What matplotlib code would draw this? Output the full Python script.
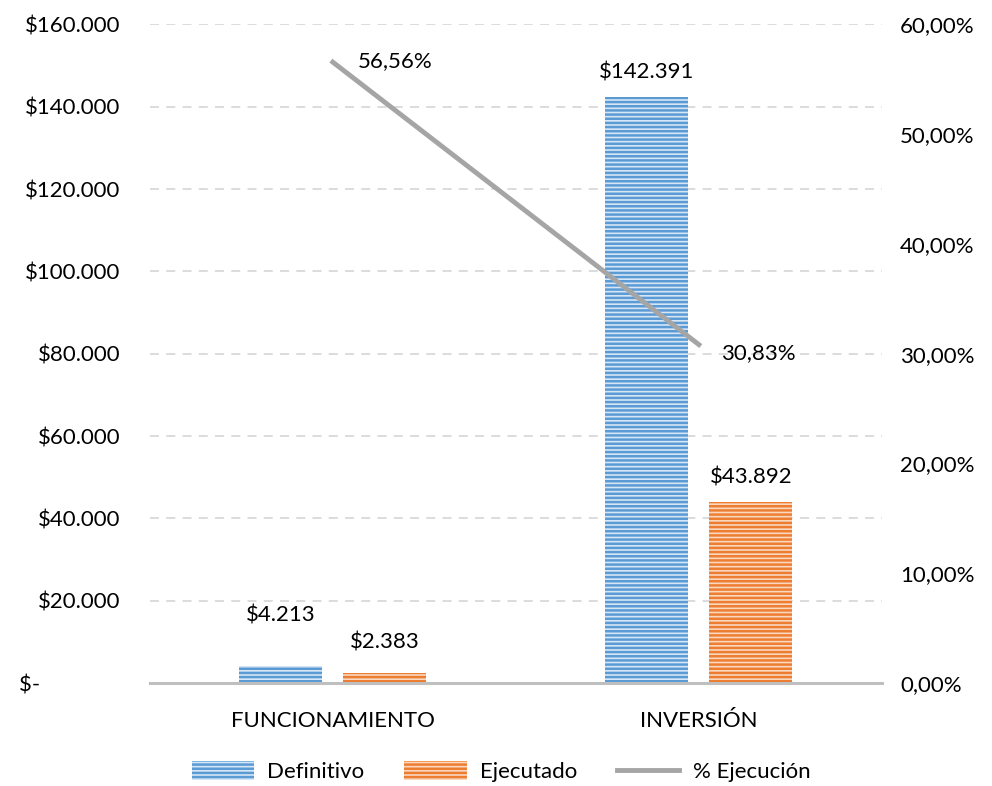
import matplotlib.pyplot as plt
import numpy as np
from matplotlib.ticker import FuncFormatter

plt.rcParams['font.family'] = ['Lato', 'DejaVu Sans']
plt.rcParams['hatch.linewidth'] = 1.8

# Data
categories = ['FUNCIONAMIENTO', 'INVERSIÓN']
definitivo = [4213, 142391]
ejecutado = [2383, 43892]
pct_ejecucion = [56.56, 30.83]

blue = '#5B9BD5'
orange = '#ED7D31'
gray = '#A5A5A5'
fs = 16

def fmt_money(v):
    return '$' + f'{v:,.0f}'.replace(',', '.')

def fmt_pct(v):
    return f'{v:.2f}%'.replace('.', ',')

fig = plt.figure(figsize=(9.92, 7.86), dpi=100)
ax = fig.add_axes([0.151, 0.131, 0.738, 0.838])
ax2 = ax.twinx()

x = np.arange(len(categories))
w = 0.227
off = 0.142

b1 = ax.bar(x - off, definitivo, w, facecolor='#D6E6F5', edgecolor=blue,
            hatch='----', linewidth=0, label='Definitivo')
b2 = ax.bar(x + off, ejecutado, w, facecolor='#FAD8C0', edgecolor=orange,
            hatch='----', linewidth=0, label='Ejecutado')

# labels in the small bars were nudged up in the original chart
extra = {(0, 0): 6300, (1, 0): 1500}
for k, (bars, vals) in enumerate([(b1, definitivo), (b2, ejecutado)]):
    for i, (bar, v) in enumerate(zip(bars, vals)):
        ax.text(bar.get_x() + bar.get_width() / 2, v + 3500 + extra.get((k, i), 0),
                fmt_money(v), ha='center', va='bottom', fontsize=fs)

ax.set_xlim(-0.5, 1.5)
ax.set_ylim(0, 160000)
ax.set_yticks(np.arange(0, 160001, 20000))
ax.yaxis.set_major_formatter(FuncFormatter(lambda v, p: '$-' + ' ' * 14 if v == 0 else fmt_money(v)))
ax.set_xticks(x)
ax.set_xticklabels(categories)
ax.tick_params(axis='both', length=0, labelsize=fs)
ax.tick_params(axis='x', pad=20)
ax.tick_params(axis='y', pad=21)
ax.grid(axis='y', color='#D9D9D9', linestyle=(0, (5, 4)), linewidth=1.3)
ax.set_axisbelow(True)
for s in ['top', 'right', 'left']:
    ax.spines[s].set_visible(False)
    ax2.spines[s].set_visible(False)
ax.spines['bottom'].set_color('#BFBFBF')
ax.spines['bottom'].set_linewidth(2.2)
ax2.spines['bottom'].set_visible(False)

line, = ax2.plot(x, pct_ejecucion, color=gray, linewidth=3.5, label='% Ejecución')
ax2.set_ylim(0, 60)
ax2.set_yticks(np.arange(0, 61, 10))
ax2.yaxis.set_major_formatter(FuncFormatter(lambda v, p: fmt_pct(v)))
ax2.tick_params(axis='y', length=0, labelsize=fs, pad=13)

ax2.text(x[0] + 0.068, pct_ejecucion[0] + 0.1, fmt_pct(pct_ejecucion[0]),
         ha='left', va='center', fontsize=fs)
ax2.text(x[1] + 0.06, pct_ejecucion[1] - 0.8, fmt_pct(pct_ejecucion[1]),
         ha='left', va='center', fontsize=fs)

fig.legend([b1, b2, line], ['Definitivo', 'Ejecutado', '% Ejecución'],
           loc='center', bbox_to_anchor=(0.505, 0.018), ncol=3, frameon=False,
           fontsize=fs, handlelength=2.8, handleheight=0.9, handletextpad=0.6,
           columnspacing=1.8)

fig.savefig('out.png', dpi=100)
